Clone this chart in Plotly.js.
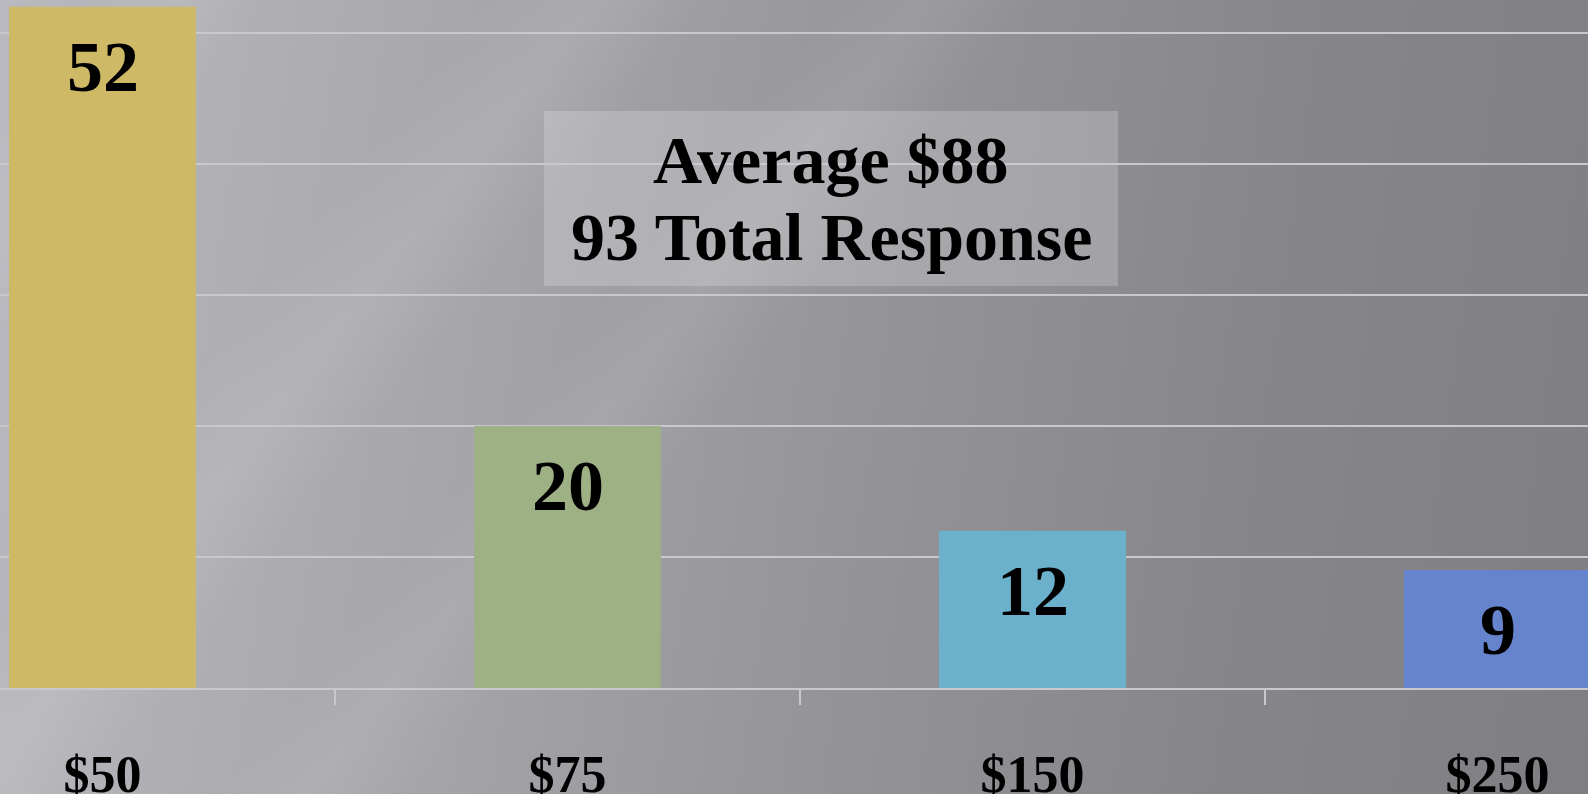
<!DOCTYPE html>
<html>
<head>
<meta charset="utf-8">
<script src="https://cdn.plot.ly/plotly-3.0.1.min.js"></script>
<style>
  html, body { margin: 0; padding: 0; }
  body {
    width: 1588px; height: 794px; overflow: hidden;
    background:
      linear-gradient(128deg, rgba(255,255,255,0) 22%, rgba(255,255,255,0.09) 27%, rgba(255,255,255,0) 32%),
      linear-gradient(128deg, rgba(255,255,255,0) 38%, rgba(255,255,255,0.07) 42%, rgba(255,255,255,0) 47%),
      linear-gradient(128deg, rgba(255,255,255,0) 4%, rgba(255,255,255,0.08) 8%, rgba(255,255,255,0) 12%),
      linear-gradient(98deg, #bab9bf 0%, #a6a5aa 30%, #949398 55%, #86858a 78%, #7f7e83 100%);
  }
  #chart { width: 1588px; height: 794px; }
</style>
</head>
<body>
<div id="chart"></div>
<script>
const categories = ["$50", "$75", "$150", "$250"];
const counts = [52, 20, 12, 9];
const barColors = ["#cdb966", "#9db184", "#6bb1cb", "#6584cd"];
const summaryLines = ["Average $88", "93 Total Response"];

const FONT = "Liberation Serif, Times New Roman, serif";

const trace = {
  type: "bar",
  x: categories,
  y: counts,
  marker: { color: barColors, line: { width: 0 } },
  hoverinfo: "skip"
};

const annotations = categories.map((c, i) => ({
  x: c, y: counts[i], xref: "x", yref: "y",
  text: "<b>" + counts[i] + "</b>",
  showarrow: false, yanchor: "top", yshift: -18,
  font: { family: FONT, size: 72, color: "#000" }
}));

annotations.push({
  x: 831 / 1588, y: (688 - 160) / 688, xref: "paper", yref: "paper",
  text: "<b>" + summaryLines[0] + "</b>", showarrow: false,
  xanchor: "center", yanchor: "middle",
  font: { family: FONT, size: 68, color: "#000" }
});
annotations.push({
  x: 831 / 1588, y: (688 - 237) / 688, xref: "paper", yref: "paper",
  text: "<b>" + summaryLines[1] + "</b>", showarrow: false,
  xanchor: "center", yanchor: "middle",
  font: { family: FONT, size: 68, color: "#000" }
});

const layout = {
  width: 1588, height: 794,
  margin: { l: 0, r: 0, t: 0, b: 106, pad: 0 },
  paper_bgcolor: "rgba(0,0,0,0)",
  plot_bgcolor: "rgba(0,0,0,0)",
  showlegend: false,
  bargap: 0.598,
  xaxis: {
    type: "category",
    range: [-102.5 / 465, (1588 - 102.5) / 465],
    showgrid: false,
    showline: true, linecolor: "#c9c8cc", linewidth: 2,
    tickson: "boundaries",
    ticks: "outside", ticklen: 15, tickwidth: 2, tickcolor: "#c9c8cc",
    ticklabelstandoff: 40,
    tickfont: { family: FONT, size: 52, color: "#000", weight: "bold" },
    zeroline: false, fixedrange: true
  },
  yaxis: {
    range: [0, 688 / 13.1],
    dtick: 10, tick0: 0,
    showgrid: true, gridcolor: "#c9c8cc", gridwidth: 1.5,
    showticklabels: false, ticks: "",
    zeroline: false, showline: false, fixedrange: true
  },
  shapes: [{
    type: "rect", xref: "paper", yref: "paper", layer: "below",
    x0: 544 / 1588, x1: 1118 / 1588,
    y0: (688 - 286) / 688, y1: (688 - 111) / 688,
    fillcolor: "rgba(255,255,255,0.2)", line: { width: 0 }
  }],
  annotations: annotations
};

Plotly.newPlot("chart", [trace], layout, { displayModeBar: false, staticPlot: true });
</script>
</body>
</html>
